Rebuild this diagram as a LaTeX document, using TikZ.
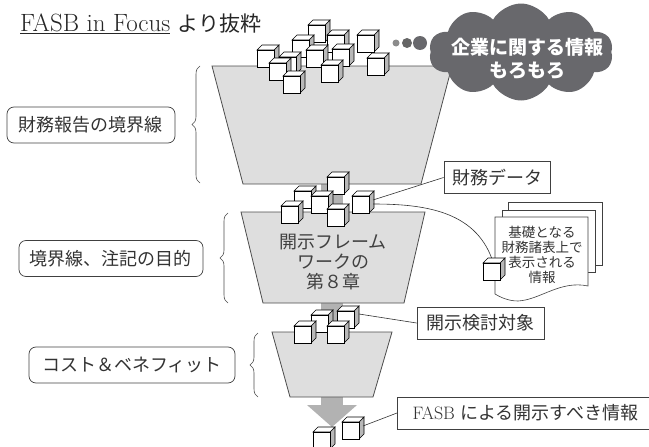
\documentclass[tikz,border=0pt]{standalone}
\usepackage{fontspec}
\usepackage{tikz}
\usetikzlibrary{positioning, shapes.symbols, decorations.pathreplacing}

\newfontfamily\jpfont{Noto Sans CJK JP}
\definecolor{cloudgray}{RGB}{104,104,108}
\definecolor{funnelgray}{RGB}{222,222,222}
\definecolor{shaftgray}{RGB}{178,178,178}

\begin{document}
\begin{tikzpicture}[x=1pt, y=-1pt,
    funnel/.style={draw=black!70, fill=funnelgray, line width=0.8},
    shaft/.style={fill=shaftgray},
    bracket/.style={decorate, decoration={brace, amplitude=8pt}, draw=black!70, line width=0.6},
    boundbox/.style={draw=black!75, rounded corners=7pt, line width=0.7, minimum height=36, inner sep=0pt,
        font=\jpfont\fontsize{18}{20}\selectfont, text=black!80},
    tagbox/.style={draw=black!75, fill=white, line width=0.8, minimum height=32, inner sep=0pt,
        font=\jpfont\fontsize{18}{20}\selectfont, text=black!80},
    cubeline/.style={draw=black, line width=0.6},
    pagebox/.style={draw=black!75, fill=white, line width=0.6},
    leader/.style={draw=black!80, line width=0.6}]

    \useasboundingbox (0,0) rectangle (649,447);

    \def\cubesize{17}
    \def\cubedepth{5}
    % one cube, (#1,#2) = lower left corner of the front face
    \def\boxcube#1#2{
        \draw[cubeline, fill=black!28] (#1+\cubesize,#2) -- ++(\cubedepth,-\cubedepth)
            -- ++(0,-\cubesize) -- ++(-\cubedepth,\cubedepth) -- cycle;
        \draw[cubeline, fill=white] (#1,#2-\cubesize) -- ++(\cubedepth,-\cubedepth)
            -- ++(\cubesize,0) -- ++(-\cubedepth,\cubedepth) -- cycle;
        \draw[cubeline, fill=white] (#1,#2) rectangle ++(\cubesize,-\cubesize);
    }

    % title
    \node[anchor=base west, inner sep=0pt, text=black!85] (title) at (20,31)
        {\fontsize{25}{28}\selectfont\underline{FASB in Focus}\ {\jpfont\fontsize{21}{26}\selectfont より抜粋}};

    % gray arrow running down through the funnels
    \fill[shaft] (321,184) rectangle (343,405);
    \fill[shaft] (307,405) -- (357,405) -- (332,427) -- cycle;

    % funnels
    \draw[funnel] (212,66) -- (452,66) -- (421,184) -- (243,184) -- cycle;
    \draw[funnel] (241,212) -- (425,212) -- (404,303) -- (263,303) -- cycle;
    \draw[funnel] (272,332) -- (392,332) -- (373,397) -- (290,397) -- cycle;

    \node[align=center, font=\jpfont\fontsize{18}{20}\selectfont, text=black!75] (chapter) at (333,262)
        {開示フレーム\\ワークの\\第８章};

    % braces and labels on the left
    \draw[bracket] (200,183) -- (200,66);
    \draw[bracket] (228,303) -- (228,213);
    \draw[bracket] (258,397) -- (258,333);

    \node[boundbox, minimum width=168] (scope) at (91,125) {財務報告の境界線};
    \node[boundbox, minimum width=184] (purpose) at (111,258.5) {境界線、注記の目的};
    \node[boundbox, minimum width=206] (costbenefit) at (132,365) {コスト＆ベネフィット};

    % labels on the right
    \node[tagbox, minimum width=106] (datalabel) at (497,177.5) {財務データ};
    \node[tagbox, minimum width=127] (checklabel) at (480.5,323) {開示検討対象};
    \node[tagbox, anchor=west, minimum width=256] (fasblabel) at (397,413)
        {{\rmfamily\fontsize{18}{20}\selectfont FASB}\hspace{5pt}による開示すべき情報};

    % cubes in the top funnel
    \foreach \cx/\cy in {308/42, 327/52, 357/52, 292/57, 332/66, 257/67, 306/67,
                         279/74, 367/75, 269/80, 321/82, 283/93}
    {
        \boxcube{\cx}{\cy}
    }

    % cubes between the funnels
    \foreach \cx/\cy in {327/194, 294/208, 311/213, 352/213, 281/223, 327/226}
    {
        \boxcube{\cx}{\cy}
    }
    \foreach \cx/\cy in {337/328, 311/332, 294/343, 327/343, 342/439, 313/449}
    {
        \boxcube{\cx}{\cy}
    }

    \coordinate (dataout) at (373,200);
    \coordinate (docout) at (373,204);
    \coordinate (doccube) at (492,259);
    \coordinate (checkcube) at (359,314);
    \coordinate (fasbcube) at (363,426);

    % leaders to the labels
    \draw[leader] (dataout) -- (datalabel.west);
    \draw[leader] (checkcube) -- (checklabel.west);
    \draw[leader] (fasbcube) -- (fasblabel.west);

    % stacked pages
    \draw[pagebox] (508,202) rectangle (602,265);
    \draw[pagebox] (502,210) rectangle (595,272);
    \draw[pagebox] (495,294) -- (495,217) -- (588,217) -- (588,286)
        .. controls (560,280) and (540,300) .. (518,301)
        .. controls (508,301) and (500,297) .. (495,294);
    \node[align=center, font=\jpfont\fontsize{13.5}{15}\selectfont, text=black!80] (doctext) at (542,254.5)
        {基礎となる\\財務諸表上で\\表示される\\情報};

    \draw[leader] (docout) to[out=0, in=110] (doccube);
    \boxcube{483}{280}

    % cloud of company information
    \fill[black!45] (396,43) circle (3.5);
    \fill[black!60] (407,43) circle (5);
    \fill[cloudgray] (420,43) circle (7);
    \node[cloud, cloud puffs=10, cloud puff arc=120, cloud ignores aspect, fill=cloudgray,
        minimum width=184, minimum height=97, inner sep=0pt] (info) at (521,52) {};
    \node[align=center, text=white, font=\jpfont\bfseries\fontsize{19}{23}\selectfont] (infotext) at (527,59)
        {企業に関する情報\\もろもろ};
\end{tikzpicture}
\end{document}
